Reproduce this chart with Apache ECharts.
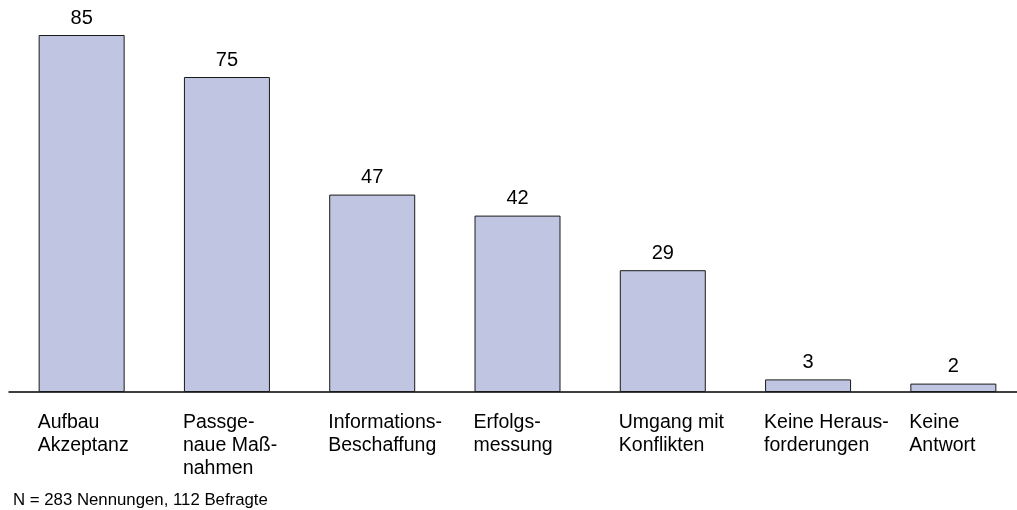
<!DOCTYPE html>
<html>
<head>
<meta charset="utf-8">
<script src="https://cdn.jsdelivr.net/npm/echarts@6/dist/echarts.min.js"></script>
<style>
  html, body { margin: 0; padding: 0; background: #fff; }
  #chart { width: 1017px; height: 510px; }
</style>
</head>
<body>
<div id="chart"></div>
<script>
const categories = [
  'Aufbau\nAkzeptanz',
  'Passge-\nnaue Maß-\nnahmen',
  'Informations-\nBeschaffung',
  'Erfolgs-\nmessung',
  'Umgang mit\nKonflikten',
  'Keine Heraus-\nforderungen',
  'Keine\nAntwort'
]
const values = [85, 75, 47, 42, 29, 3, 2]
const footnote = 'N = 283 Nennungen, 112 Befragte'

const font = "'Liberation Sans', Arial, sans-serif"

const chart = echarts.init(document.getElementById('chart'))
chart.setOption({
  animation: false,
  textStyle: { fontFamily: font },
  title: {
    text: footnote,
    left: 13,
    top: 492,
    padding: 0,
    textStyle: { fontFamily: font, fontSize: 16.8, fontWeight: 'normal', color: '#000' }
  },
  grid: { left: 9, right: -9, top: 14, bottom: 118, outerBoundsMode: 'none', containLabel: false },
  xAxis: {
    type: 'category',
    data: categories,
    axisLine: { lineStyle: { color: '#000', width: 1.5 } },
    axisTick: { show: false },
    axisLabel: { show: false }
  },
  yAxis: { type: 'value', min: 0, max: 90, show: false },
  series: [
    {
      type: 'bar',
      data: values,
      barWidth: 86,
      itemStyle: { color: '#c0c6e2', borderColor: '#1a1a1a', borderWidth: 1 },
      label: {
        show: true,
        position: 'top',
        distance: 7,
        fontSize: 20,
        color: '#000',
        fontFamily: font
      }
    },
    {
      // zero height bars that carry the left aligned category names
      type: 'bar',
      data: categories.map(() => 0),
      barWidth: 86,
      barGap: '-100%',
      silent: true,
      itemStyle: { color: 'transparent', borderWidth: 0 },
      label: {
        show: true,
        position: [-1, 19],
        align: 'left',
        verticalAlign: 'top',
        formatter: (p) => categories[p.dataIndex],
        fontSize: 19.5,
        lineHeight: 23,
        color: '#000',
        fontFamily: font
      }
    }
  ]
})
</script>
</body>
</html>
